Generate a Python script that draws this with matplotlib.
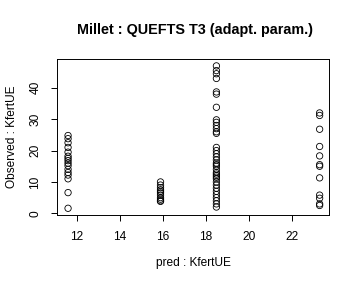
import matplotlib
matplotlib.use("Agg")
import matplotlib.pyplot as plt

plt.rcParams["font.family"] = ["Liberation Sans", "DejaVu Sans"]

pred_groups = [11.6, 15.9, 18.5, 23.3]
obs_groups = [
    [24.8, 23.8, 22.5, 21.0, 19.5, 18.2, 17.5, 16.8, 16.0, 15.2, 14.0, 13.0,
     12.2, 11.0, 6.6, 1.6],
    [10.0, 9.0, 8.2, 7.5, 7.0, 6.5, 5.8, 5.0, 4.5, 4.0, 3.8],
    [47.0, 45.5, 44.5, 43.0, 38.7, 38.0, 33.8, 29.8, 29.0, 28.0, 27.0, 26.0,
     25.5, 21.0, 20.0, 19.0, 18.0, 17.0, 16.0, 15.5, 15.0, 14.0, 13.0, 12.5,
     12.0, 11.5, 11.0, 10.0, 9.0, 8.0, 7.0, 6.0, 5.0, 4.0, 3.0, 2.0],
    [32.0, 31.2, 26.8, 21.3, 18.3, 15.5, 15.0, 11.3, 5.8, 4.8, 3.0, 2.5],
]
x_ticks = [12, 14, 16, 18, 20, 22]
y_ticks = [0, 10, 20, 30, 40]

fig = plt.figure(figsize=(3.6, 2.88), dpi=100)
ax = fig.add_axes([57.3 / 360, 1 - 215 / 288, 272 / 360, 156 / 288])

xs = [p for p, obs in zip(pred_groups, obs_groups) for _ in obs]
ys = [v for obs in obs_groups for v in obs]
ax.scatter(xs, ys, s=21, facecolors="none", edgecolors="black", linewidths=0.6)

ax.set_xlim(11.10, 23.75)
ax.set_ylim(-0.54, 49.2)
ax.set_xticks(x_ticks)
ax.set_yticks(y_ticks)
ax.tick_params(direction="out", length=4.5, width=0.7, labelsize=8.6, pad=7)
ax.tick_params(axis="y", labelrotation=90)
for lbl in ax.get_yticklabels():
    lbl.set_va("center")
for s in ax.spines.values():
    s.set_linewidth(0.7)

fig.text(195 / 360, 1 - 30 / 288, "Millet : QUEFTS T3 (adapt. param.)",
         ha="center", va="center", fontsize=10.4, fontweight="bold")
fig.text(193 / 360, 1 - 263 / 288, "pred : KfertUE", ha="center", va="center",
         fontsize=8.6)
fig.text(12 / 360, 1 - 137 / 288, "Observed : KfertUE", ha="center",
         va="center", rotation=90, fontsize=8.6)

fig.savefig("out.png", dpi=100)
